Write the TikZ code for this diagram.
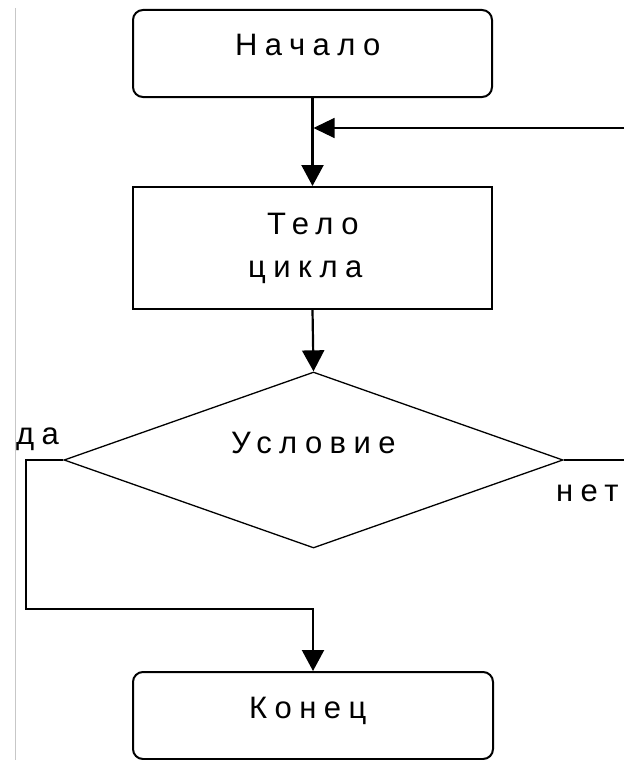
\documentclass[tikz,border=0pt]{standalone}
\usepackage{fontspec}
\newfontfamily\lblfont{Liberation Sans}[LetterSpace=24]
\usetikzlibrary{arrows.meta,shapes.geometric}
\begin{document}
\begin{tikzpicture}[x=1pt,y=-1pt,
  boxs/.style={draw=black, line width=2pt, minimum width=359pt, inner sep=0pt},
  termbox/.style={boxs, rounded corners=10pt},
  txt/.style={font=\lblfont\fontsize{31}{31}\selectfont, inner sep=0pt, anchor=base west},
  conn/.style={line width=2.2pt, -{Triangle[length=21pt,width=22pt]}},
  thinconn/.style={line width=1.1pt, -{Triangle[length=21pt,width=20pt]}},
  plainline/.style={line width=2pt},
  frameline/.style={draw=black!22, line width=1pt}
]
\useasboundingbox (0,0) rectangle (624,760);
\clip (0,0) rectangle (624,760);
\fill[white] (0,0) rectangle (624,760);
\draw[frameline] (15,8) -- (15,760);

% nodes
\node[termbox, minimum height=87pt] (start) at (312.5,53.5) {};
\node[boxs, minimum height=122pt] (body) at (312.5,248) {};
\node[draw=black, diamond, line width=1.3pt, minimum width=499pt, minimum height=176pt,
      inner sep=0pt, shape aspect=2.835] (cond) at (313.5,460) {};
\node[termbox, minimum width=360pt, minimum height=87pt] (stop) at (313,715.5) {};

% texts
\node[txt] (tstart) at (235,56) {Начало};
\node[txt] (tbody1) at (267,234) {Тело};
\node[txt] (tbody2) at (248,277) {цикла};
\node[txt] (tcond) at (231,453) {Условие};
\node[txt] (tstop) at (249,718) {Конец};
\node[txt] (tyes) at (16,444) {да};
\node[txt] (tno) at (556,501) {нет};

% connectors
\coordinate (loopin) at (624,128);
\coordinate (loopL) at (26,609);
\coordinate (noend) at (624,460);
\draw[conn] (start.south) -- (body.north);
\draw[thinconn] (loopin) -- ([xshift=1pt]start.south |- loopin);
\draw[conn] (body.south) -- (cond.north);
\draw[conn] (cond.west) -| (loopL) -| (stop.north);
\draw[plainline] (cond.east) -- (noend);
\end{tikzpicture}
\end{document}
